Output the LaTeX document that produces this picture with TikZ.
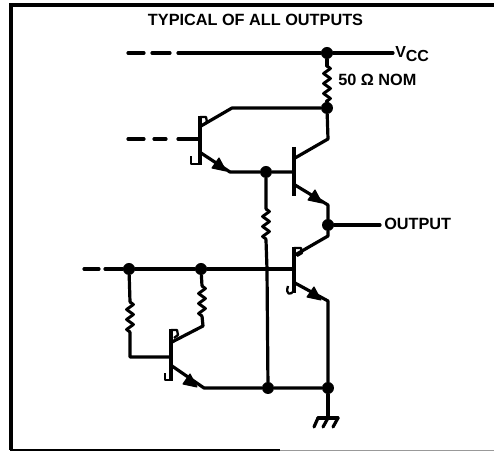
\documentclass[tikz,border=0pt]{standalone}
\usepackage{fontspec}
\setmainfont{Liberation Sans}
\usetikzlibrary{decorations.pathmorphing}
\tikzset{
  wire/.style={line width=2.4pt,line cap=round,line join=round},
  bar/.style={line width=2.4pt},
  hook/.style={line width=1.7pt,line join=round},
  res/.style={line width=2.2pt,line join=round,decorate,decoration={zigzag,amplitude=2.6pt,segment length=7.5pt}},
  junction/.style={circle,fill=black,draw=none,inner sep=0pt,minimum size=9pt},
  label/.style={inner sep=0pt,text=black},
  tip/.style={fill=black,draw=black,line width=.8pt,line join=round},
}
\begin{document}
\begin{tikzpicture}[x=0.75pt,y=-0.75pt]
\useasboundingbox (0,0) rectangle (494,452);
\draw[line width=2.4pt] (11,450) -- (11,5) -- (494,5);
\draw[line width=1.4pt] (10,450) -- (280,450);
\draw[line width=1pt,black!40] (280,450.5) -- (494,450.5);
\node[label,font=\bfseries\fontsize{12.2pt}{14pt}\selectfont] (title) at (255.5,20) {TYPICAL OF ALL OUTPUTS};
% junctions
\node[junction] (vcc) at (327,53) {};
\node[junction] (c1) at (327,108) {};
\node[junction] (b2) at (266,172) {};
\node[junction] (out) at (328,225) {};
\node[junction] (i1) at (129,269) {};
\node[junction] (i2) at (201,269) {};
\node[junction] (g1) at (268,388) {};
\node[junction] (g2) at (328,388) {};
% coordinates
\coordinate (vccL) at (178,53); \coordinate (vccR) at (393,53);
\coordinate (r1a) at (327,66); \coordinate (r1b) at (327,101);
\coordinate (t1c) at (232,108); \coordinate (t1ca) at (201,126);
\coordinate (t1ea) at (201,153); \coordinate (t1e) at (230,172);
\coordinate (t1b) at (200,139);
\coordinate (t2b) at (294,172);
\coordinate (t2ca) at (295,158); \coordinate (t2c) at (328,139);
\coordinate (t2ea) at (295,185); \coordinate (t2e) at (328,205);
\coordinate (r2a) at (266,209); \coordinate (r2b) at (266,240);
\coordinate (x1) at (267,269);
\coordinate (t3b) at (294,269);
\coordinate (t3ca) at (295,255); \coordinate (t3c) at (328,236);
\coordinate (t3ea) at (295,283); \coordinate (t3e) at (328,301);
\coordinate (r3a) at (130,302); \coordinate (r3b) at (130,332);
\coordinate (l1) at (130,357); \coordinate (t4b) at (171,357);
\coordinate (r4a) at (202,286); \coordinate (r4b) at (202,316);
\coordinate (t4c) at (203,326); \coordinate (t4ca) at (172,342);
\coordinate (t4ea) at (172,366); \coordinate (t4e) at (204,388);
\coordinate (gnd) at (328,418);
\coordinate (outR) at (380,225);
% supply
\draw[wire] (vccL) -- (vcc) -- (vccR);
\draw[wire] (128,53) -- (144,53) (152,53) -- (170,53);
\draw[wire] (vcc) -- (r1a) (r1b) -- (c1);
\draw[res] (r1a) -- (r1b);
% Q1
\draw[wire] (c1) -- (t1c) -- (t1ca);
\draw[bar] (200,116) -- (200,165);
\draw[hook] (200,117) -- (206,117) -- (207,122) -- (203,125);
\draw[hook] (200,164) -- (191,164) -- (191,156);
\draw[wire] (128,139) -- (144,139) (154,139) -- (166,139) (178,139) -- (t1b);
\draw[wire] (t1ea) -- (t1e) -- (b2) -- (t2b);
\fill[tip] (219,158) -- (212,168) -- (226,171) -- cycle;
% Q2
\draw[bar] (294,147) -- (294,196);
\draw[wire] (t2ca) -- (t2c) -- (c1);
\draw[wire] (t2ea) -- (t2e) -- (out);
\fill[tip] (315,190) -- (308,200) -- (322,203) -- cycle;
\draw[wire] (out) -- (outR);
% pull-down resistor and vertical
\draw[wire] (b2) -- (r2a) (r2b) -- (x1);
\draw[res] (r2a) -- (r2b);
\draw[wire] (x1) -- (g1);
% input
\draw[wire] (84,269) -- (99,269);
\draw[wire] (105,269) -- (i1) -- (i2) -- (t3b);
% Q3
\draw[bar] (294,247) -- (294,293);
\draw[hook] (294,248) -- (301,248) -- (302,253) -- (297,256);
\draw[hook] (294,290) .. controls (291,296) and (285,295) .. (288,286);
\draw[wire] (t3ca) -- (t3c) -- (out);
\draw[wire] (t3ea) -- (t3e) -- (g2);
\fill[tip] (314,287) -- (307,297) -- (321,300) -- cycle;
% left resistors and Q4
\draw[wire] (i1) -- (r3a) (r3b) -- (l1) -- (t4b);
\draw[res] (r3a) -- (r3b);
\draw[wire] (i2) -- (r4a) (r4b) -- (t4c) -- (t4ca);
\draw[res] (r4a) -- (r4b);
\draw[bar] (171,329) -- (171,381);
\draw[hook] (171,330) -- (177,330) -- (178,335) -- (174,338);
\draw[hook] (171,380) -- (165,380) -- (165,373);
\draw[wire] (t4ea) -- (t4e) -- (g1) -- (g2);
\fill[tip] (190,374) -- (183,384) -- (197,387) -- cycle;
% ground
\draw[wire] (g2) -- (gnd);
\draw[wire] (318,418) -- (338,418);
\draw[wire] (318,418) -- (314,427) (328,418) -- (323,427) (338,418) -- (333,427);
% labels
\node[label,anchor=west,font=\bfseries\fontsize{12pt}{14pt}\selectfont] (vlabel) at (395,54) {V\raisebox{-3pt}{CC}};
\node[label,anchor=west,font=\bfseries\fontsize{12.2pt}{14pt}\selectfont] (ohm) at (338,80) {50 Ω NOM};
\node[label,anchor=west,font=\bfseries\fontsize{12.2pt}{14pt}\selectfont] (outl) at (384,224) {OUTPUT};
\end{tikzpicture}
\end{document}
